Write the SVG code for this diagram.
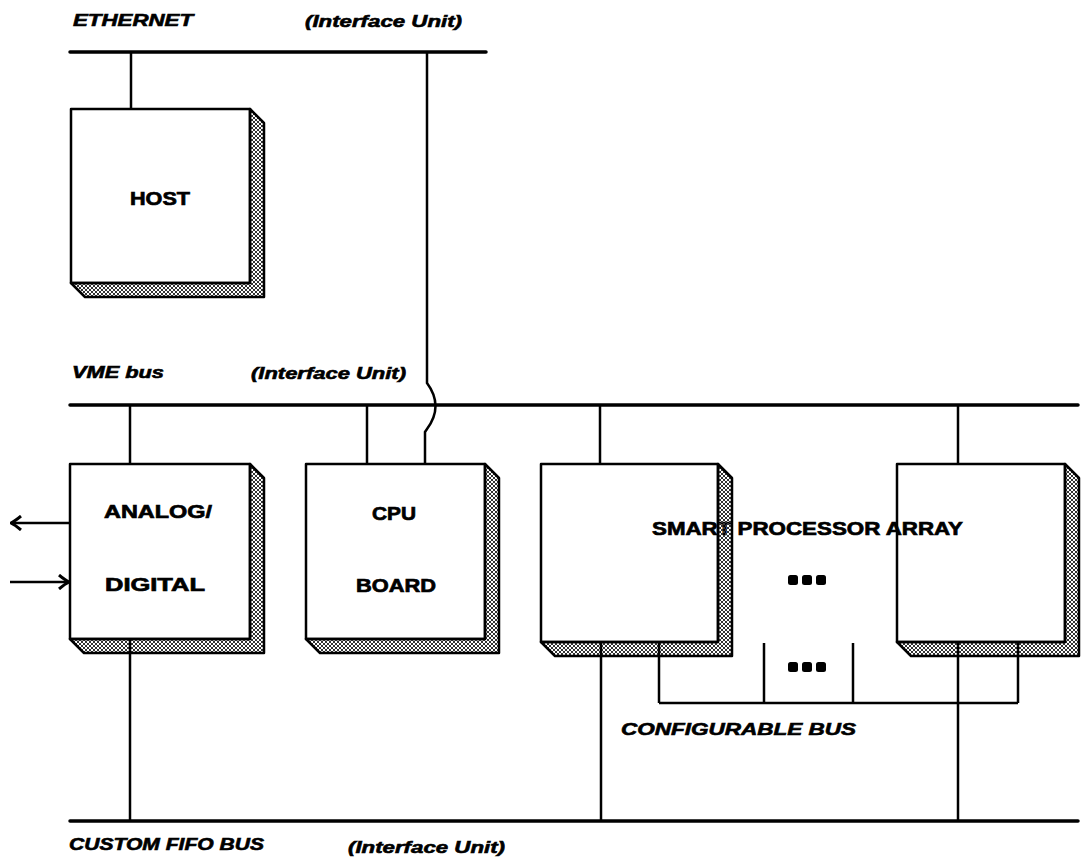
<svg xmlns="http://www.w3.org/2000/svg" width="1088" height="862" viewBox="0 0 1088 862">
<style>
.bus{stroke:#000;stroke-width:3.5;fill:none;stroke-linecap:round}
.con{stroke:#000;stroke-width:2.5;fill:none}
.face{fill:none;stroke:#000;stroke-width:2.5;stroke-linejoin:round}
.bevel{fill:url(#hatch);stroke:#000;stroke-width:2.5;stroke-linejoin:round}
.lbl{font-family:"Liberation Sans",Arial,sans-serif;font-weight:bold;font-size:19px;fill:#000;stroke:#000;stroke-width:0.7}
.bl{font-family:"Liberation Sans",Arial,sans-serif;font-weight:bold;font-style:italic;font-size:16.5px;fill:#000;stroke:#000;stroke-width:0.6}
.dot{fill:#000}
</style>
<defs>
<pattern id="hatch" patternUnits="userSpaceOnUse" width="4" height="4">
<path d="M0,0h1v1h-1z M1,1h1v1h-1z M2,2h1v1h-1z M3,3h1v1h-1z M3,0h1v1h-1z M2,1h1v1h-1z M1,2h1v1h-1z M0,3h1v1h-1z" fill="#333"/>
</pattern>
<marker id="arrow" viewBox="0 0 12 16" refX="11" refY="8" markerWidth="12" markerHeight="16" markerUnits="userSpaceOnUse" orient="auto-start-reverse">
<path d="M1,1 Q7,6 11,8 Q7,10 1,15" fill="none" stroke="#000" stroke-width="3"/>
</marker>
</defs>
<rect width="1088" height="862" fill="#fff"/>

<g id="bus-labels">
<text class="bl" x="73" y="26" textLength="120" lengthAdjust="spacingAndGlyphs">ETHERNET</text>
<text class="bl" x="305" y="27" textLength="157" lengthAdjust="spacingAndGlyphs">(Interface Unit)</text>
<text class="bl" x="72" y="378" textLength="92" lengthAdjust="spacingAndGlyphs">VME bus</text>
<text class="bl" x="251" y="379" textLength="155" lengthAdjust="spacingAndGlyphs">(Interface Unit)</text>
<text class="bl" x="69" y="850" textLength="195" lengthAdjust="spacingAndGlyphs">CUSTOM FIFO BUS</text>
<text class="bl" x="348" y="853" textLength="157" lengthAdjust="spacingAndGlyphs">(Interface Unit)</text>
<text class="bl" x="621" y="735" textLength="235" lengthAdjust="spacingAndGlyphs">CONFIGURABLE BUS</text>
</g>

<g id="spa-label">
<text class="lbl" x="652" y="535" textLength="311" lengthAdjust="spacingAndGlyphs">SMART PROCESSOR ARRAY</text>
<rect class="dot" x="788" y="575" width="10" height="10" rx="2.5"/>
<rect class="dot" x="802" y="575" width="10" height="10" rx="2.5"/>
<rect class="dot" x="816" y="575" width="10" height="10" rx="2.5"/>
<rect class="dot" x="788" y="662" width="10" height="10" rx="2.5"/>
<rect class="dot" x="802" y="662" width="10" height="10" rx="2.5"/>
<rect class="dot" x="816" y="662" width="10" height="10" rx="2.5"/>
</g>

<g id="connectors">
<line class="bus" x1="70" y1="52" x2="486" y2="52"/>
<line class="bus" x1="70" y1="405" x2="1078" y2="405"/>
<line class="bus" x1="70" y1="821" x2="1078" y2="821"/>
<line class="con" x1="131" y1="52" x2="131" y2="109"/>
<path class="con" d="M427,52 V383 Q444,406 427,429 L425,432 V464"/>
<line class="con" x1="130" y1="405" x2="130" y2="464"/>
<line class="con" x1="367" y1="405" x2="367" y2="464"/>
<line class="con" x1="600" y1="405" x2="600" y2="464"/>
<line class="con" x1="958" y1="405" x2="958" y2="464"/>
<line class="con" x1="70" y1="523" x2="11" y2="523" marker-end="url(#arrow)"/>
<line class="con" x1="10" y1="582" x2="69" y2="582" marker-end="url(#arrow)"/>
<line class="con" x1="659" y1="703" x2="1018" y2="703"/>
<line class="con" x1="764" y1="643" x2="764" y2="703"/>
<line class="con" x1="853" y1="643" x2="853" y2="703"/>
</g>

<g id="host">
<rect class="face" x="71" y="109" width="179" height="174"/>
<path class="bevel" d="M250,109 L264,123 V297 H85 L71,283 H250 Z"/>
<text class="lbl" x="160" y="205" text-anchor="middle" textLength="60" lengthAdjust="spacingAndGlyphs">HOST</text>
</g>

<g id="analog-digital">
<rect class="face" x="70" y="464" width="180" height="175"/>
<path class="bevel" d="M250,464 L264,478 V653 H84 L70,639 H250 Z"/>
<text class="lbl" x="158" y="518" text-anchor="middle" textLength="108" lengthAdjust="spacingAndGlyphs">ANALOG/</text>
<text class="lbl" x="155" y="591" text-anchor="middle" textLength="100" lengthAdjust="spacingAndGlyphs">DIGITAL</text>
</g>

<g id="cpu-board">
<rect class="face" x="306" y="464" width="179" height="175"/>
<path class="bevel" d="M485,464 L499,478 V653 H320 L306,639 H485 Z"/>
<text class="lbl" x="394" y="520" text-anchor="middle" textLength="44" lengthAdjust="spacingAndGlyphs">CPU</text>
<text class="lbl" x="396" y="592" text-anchor="middle" textLength="80" lengthAdjust="spacingAndGlyphs">BOARD</text>
</g>

<g id="spa-1">
<rect class="face" x="541" y="464" width="177" height="178"/>
<path class="bevel" d="M718,464 L732,478 V656 H555 L541,642 H718 Z"/>
</g>

<g id="spa-2">
<rect class="face" x="897" y="464" width="168" height="178"/>
<path class="bevel" d="M1065,464 L1079,478 V656 H911 L897,642 H1065 Z"/>
</g>

<g id="lower-connectors">
<line class="con" x1="130" y1="639" x2="130" y2="821"/>
<line class="con" x1="601" y1="642" x2="601" y2="821"/>
<line class="con" x1="958" y1="642" x2="958" y2="821"/>
<line class="con" x1="659" y1="642" x2="659" y2="703"/>
<line class="con" x1="1018" y1="642" x2="1018" y2="703"/>
</g>
</svg>
